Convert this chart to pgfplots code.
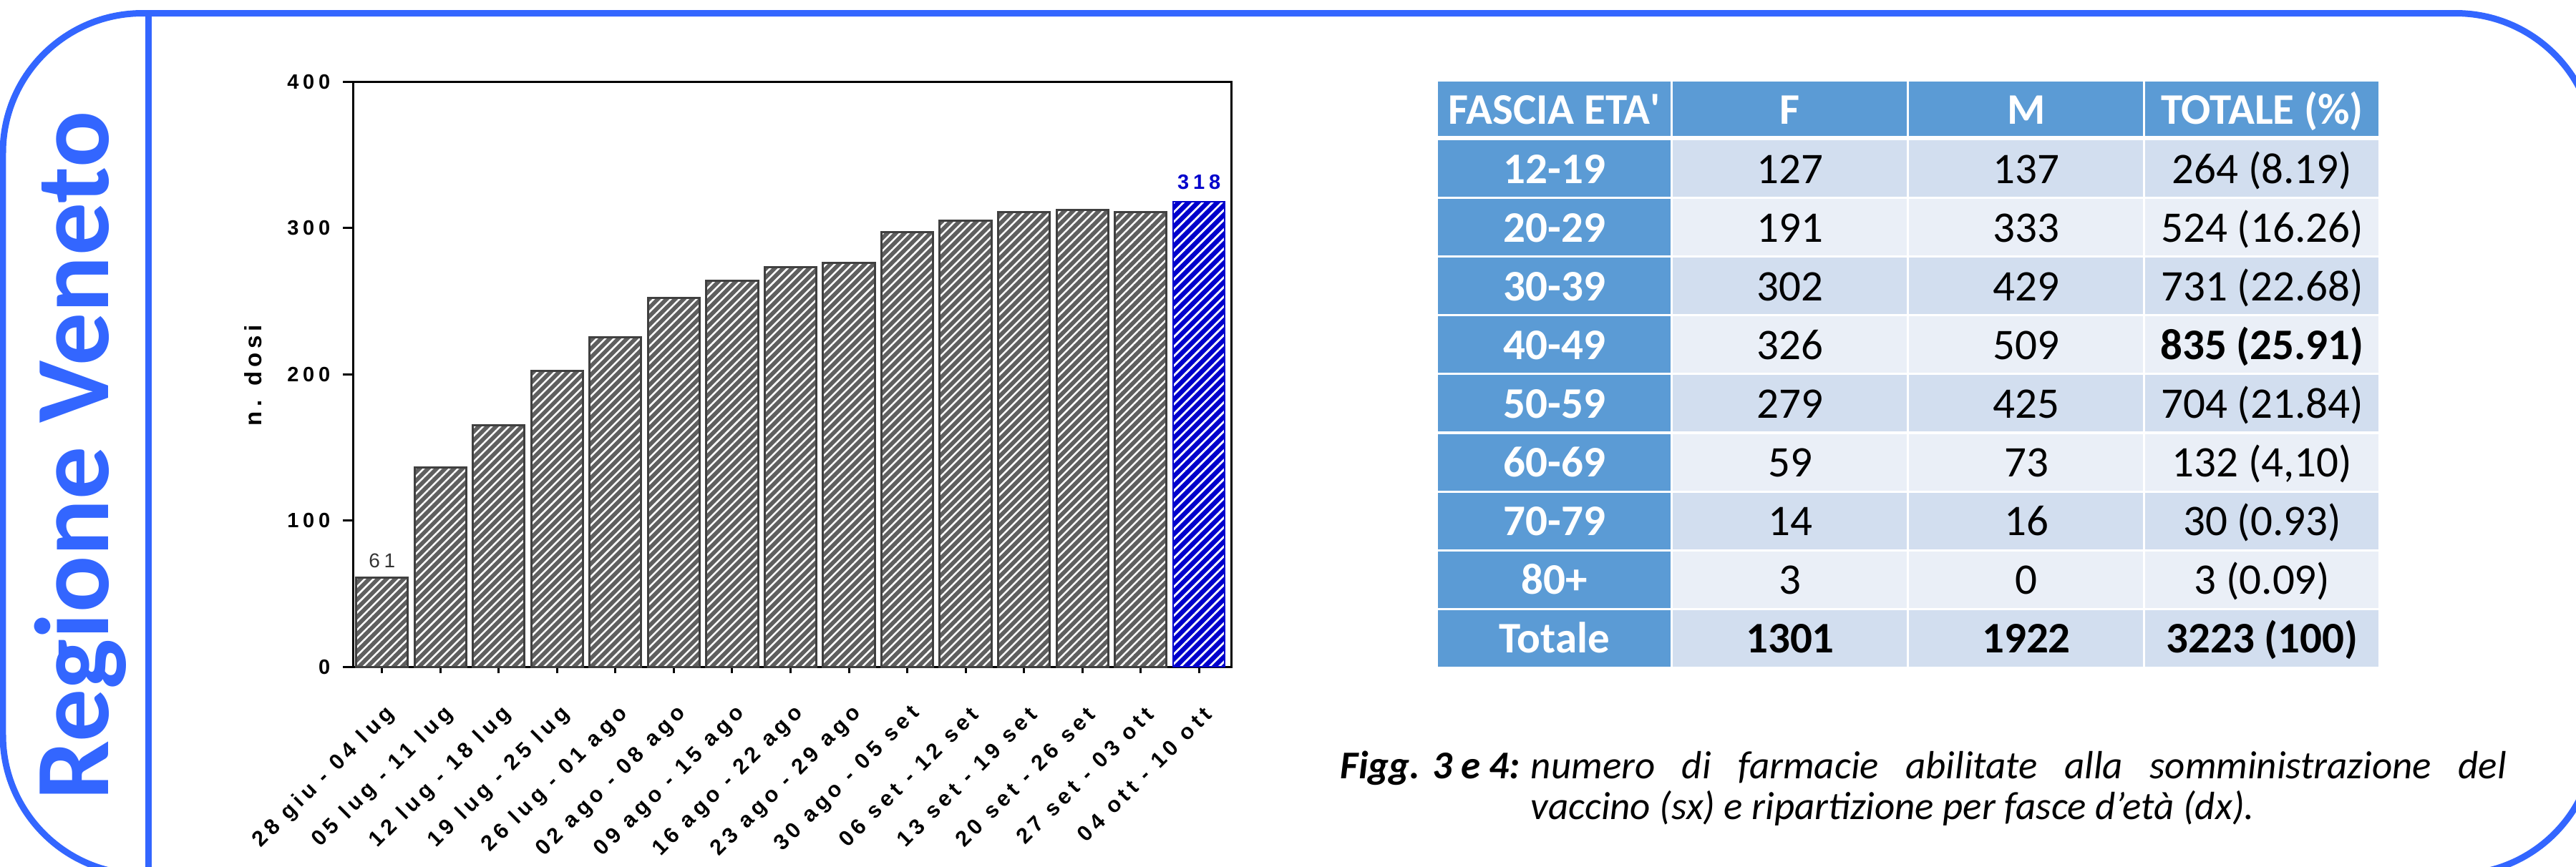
\documentclass[border=0pt]{standalone}
\usepackage{pgfplots}
\usepackage{pgfplotstable}
\pgfplotsset{compat=1.18}
\usepackage{fontspec}
\usetikzlibrary{patterns,patterns.meta}
\setmainfont{Carlito}
\newfontfamily\plainapos[Ligatures=TeXOff]{Carlito}
\newfontfamily\chartfont[LetterSpace=20]{Liberation Sans}
\newfontfamily\labfont[LetterSpace=18]{Liberation Sans}
\definecolor{framecol}{HTML}{3366FF}
\definecolor{hdr}{HTML}{5B9BD5}
\definecolor{rowA}{HTML}{D2DEEF}
\definecolor{rowB}{HTML}{EAEFF7}
\definecolor{barfill}{HTML}{5F5F5F}
\definecolor{barline}{HTML}{404040}
\definecolor{bluebar}{HTML}{0000CC}
\pgfplotstableread{
x y
0 61
}\firstbar
\pgfplotstableread{
x y
1 136
2 165
3 202
4 225
5 252
6 264
7 273
8 276
9 297
10 305
11 311
12 312
13 311
}\graybars
\pgfplotstableread{
x y
14 318
}\lastbar
\begin{document}
\begin{tikzpicture}
\begin{scope}[x=0.2pt,y=0.2pt]
\fill[white] (0,0) rectangle (3599,1211);
% frame
\draw[framecol, line width=1.8pt, rounded corners=39pt] (4,-11.5) rectangle (3626,1192.5);
\draw[framecol, line width=1.8pt] (208,1192.5) -- (208,-20);
\node[rotate=90, anchor=base, text=framecol, inner sep=0pt, font=\bfseries\fontsize{29.5}{30}\selectfont] at (152,574) {Regione Veneto};
% y label
\node[rotate=90, anchor=base, inner sep=0pt, font=\labfont\bfseries\fontsize{6.6}{7}\selectfont] at (366,686.5) {n. dosi};
\end{scope}
\begin{axis}[
  at={(98.6pt,55.8pt)}, anchor=south west,
  scale only axis, width=245.4pt, height=163.6pt,
  xmin=-0.5, xmax=14.55, ymin=0, ymax=400,
  axis line style={line width=0.6pt, black},
  tick style={line width=0.6pt, black},
  tick align=outside,
  xtick pos=bottom, ytick pos=left,
  major tick length=2.8pt,
  xtick style={/pgfplots/major tick length=1.8pt},
  ytick={0,100,200,300,400},
  yticklabel={\pgfmathprintnumber[assume math mode=true]{\tick}},
  yticklabel style={font=\chartfont\bfseries\fontsize{5.8}{7}\selectfont},
  xtick={0,...,14},
  xticklabels={28 giu - 04 lug, 05 lug - 11 lug, 12 lug - 18 lug, 19 lug - 25 lug, 26 lug - 01 ago, 02 ago - 08 ago, 09 ago - 15 ago, 16 ago - 22 ago, 23 ago - 29 ago, 30 ago - 05 set, 06 set - 12 set, 13 set - 19 set, 20 set - 26 set, 27 set - 03 ott, 04 ott - 10 ott},
  xticklabel style={xshift=5pt, yshift=-7pt, rotate=45, anchor=east, font=\chartfont\bfseries\fontsize{6.1}{7}\selectfont},
  clip=false,
  every axis plot/.append style={ybar, bar shift=0pt, bar width=0.885},
]
% gray bars: fill, then hatch + outline
\addplot[fill=barfill, draw=none,
  nodes near coords={\pgfmathprintnumber[assume math mode=true]{\pgfplotspointmeta}},
  nodes near coords style={font=\chartfont\fontsize{5.6}{7}\selectfont, text=black!80, anchor=base, yshift=2.8pt, inner sep=0pt}]
  table {\firstbar};
\addplot[pattern={Lines[angle=45,distance=1.7pt,line width=0.5pt]}, pattern color=white, draw=barline, line width=0.6pt] table {\firstbar};
\addplot[fill=barfill, draw=none] table {\graybars};
\addplot[pattern={Lines[angle=45,distance=1.7pt,line width=0.5pt]}, pattern color=white, draw=barline, line width=0.6pt] table {\graybars};
\addplot[fill=bluebar, draw=none,
  nodes near coords={\pgfmathprintnumber[assume math mode=true]{\pgfplotspointmeta}},
  nodes near coords style={font=\chartfont\bfseries\fontsize{5.8}{7}\selectfont, text=bluebar, anchor=base, yshift=3.4pt, inner sep=0pt}]
  table {\lastbar};
\addplot[pattern={Lines[angle=45,distance=1.9pt,line width=0.55pt]}, pattern color=white, draw=bluebar, line width=0.4pt] table {\lastbar};
\end{axis}
\begin{scope}[x=0.2pt,y=0.2pt]
% table header
\foreach \xl/\xr/\txt in {2008/2336/{FASCIA ETA{\plainapos'}}, 2336/2666/F, 2666/2996/M, 2996/3325/{TOTALE (\%)}} {
  \fill[hdr] (\xl+1.5,1211-114) rectangle (\xr-1.5,1211-190);
  \node[anchor=base, inner sep=0pt, text=white, font=\bfseries\fontsize{12.2}{14}\selectfont] at ({(\xl+\xr)/2},1211-173) {\txt};
}
% table rows
\foreach \i/\a/\f/\m/\t in {0/12-19/127/137/{264 (8.19)}, 1/20-29/191/333/{524 (16.26)}, 2/30-39/302/429/{731 (22.68)}, 3/40-49/326/509/{\textbf{835 (25.91)}}, 4/50-59/279/425/{704 (21.84)}, 5/60-69/59/73/{132 (4,10)}, 6/70-79/14/16/{30 (0.93)}, 7/80+/3/0/{3 (0.09)}, 8/Totale/{\textbf{1301}}/{\textbf{1922}}/{\textbf{3223 (100)}}} {
  \pgfmathsetmacro\yt{1211-(196+82.1*\i)}
  \pgfmathsetmacro\yb{\yt-79}
  \pgfmathsetmacro\yc{\yt-39.5-20.5}
  \ifodd\i \def\rc{rowB}\else\def\rc{rowA}\fi
  \fill[hdr] (2009.5,\yt) rectangle (2334.5,\yb);
  \fill[\rc] (2337.5,\yt) rectangle (2664.5,\yb);
  \fill[\rc] (2667.5,\yt) rectangle (2994.5,\yb);
  \fill[\rc] (2997.5,\yt) rectangle (3323.5,\yb);
  \node[anchor=base, inner sep=0pt, text=white, font=\bfseries\fontsize{12.2}{14}\selectfont] at (2172,\yc) {\a};
  \node[anchor=base, inner sep=0pt, font=\fontsize{12.2}{14}\selectfont] at (2501,\yc) {\f};
  \node[anchor=base, inner sep=0pt, font=\fontsize{12.2}{14}\selectfont] at (2831,\yc) {\m};
  \node[anchor=base, inner sep=0pt, font=\fontsize{12.2}{14}\selectfont] at (3160.5,\yc) {\t};
}
% caption
\node[anchor=base west, inner sep=0pt, font=\fontsize{11}{13}\selectfont\bfseries\itshape] at (1872,123) {Figg. 3 e 4:};
\node[anchor=base west, inner sep=0pt, font=\fontsize{11}{13}\selectfont\itshape] at (2138,123) {\makebox[272.6pt][s]{numero di farmacie abilitate alla somministrazione del}};
\node[anchor=base west, inner sep=0pt, font=\fontsize{11}{13}\selectfont\itshape] at (2138,66) {vaccino (sx) e ripartizione per fasce d’età (dx).};
\end{scope}
\pgfresetboundingbox
\useasboundingbox (0pt,0pt) rectangle (719.8pt,242.2pt);
\end{tikzpicture}
\end{document}
